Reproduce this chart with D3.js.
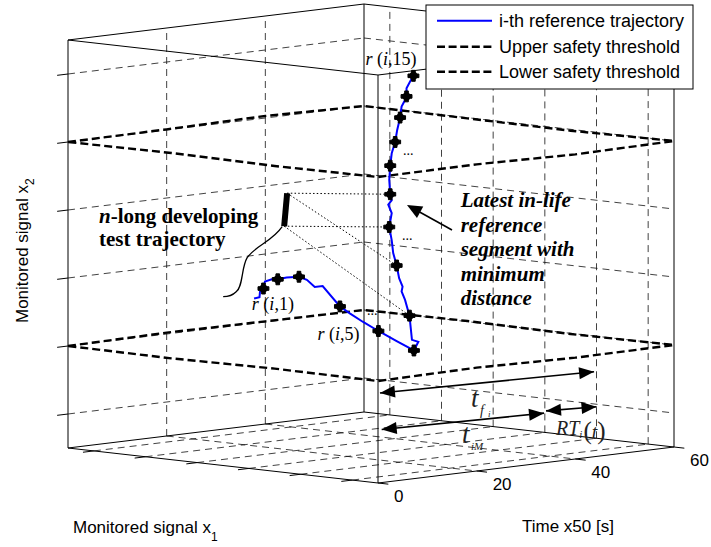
<!DOCTYPE html>
<html>
<head>
<meta charset="utf-8">
<script src="https://cdn.jsdelivr.net/npm/d3@7"></script>
<style>
  body { margin: 0; background: #fff; }
  svg { display: block; }
  .sans { font-family: "Liberation Sans", Arial, sans-serif; }
  .serif { font-family: "Liberation Serif", "Times New Roman", serif; }
</style>
</head>
<body>
<svg id="chart" width="711" height="547"></svg>
<script>
// ---- axis definitions ----
const timeDomain = [0, 60];
const x1Domain = [-0.5, 5.5];
const x2Domain = [-0.5, 5.5];
const timeTicks = [0, 20, 40, 60];
const timeGrid = [20, 40];
const x1Ticks = [0, 1, 2, 3, 4, 5];
const x2Ticks = [0, 1, 2, 3, 4, 5];

// ---- i-th reference trajectory (time, x2), lying in the plane x1 = 2.5 ----
const refX1 = 2.5;
const refTime = [6.3, 7.4, 7.5, 8.2, 8.5, 9.9, 11.1, 12.9, 15.4, 17.0, 18.6, 20.2, 23.7, 25.7, 28.4,
  31.5, 35.2, 38.7, 39.6, 38.3, 37.8, 36.9, 36.2, 36.4, 35.7, 35.2, 34.5, 34.2, 33.7, 34.2,
  33.5, 34.2, 33.9, 33.7, 33.9, 34.2, 34.9, 35.3, 35.9, 36.2, 36.9, 37.2, 37.2, 37.9, 38.6];
const refX2 = [1.90, 1.91, 1.99, 2.03, 2.13, 2.15, 2.14, 2.15, 2.14, 2.08, 1.96, 1.96, 1.63, 1.51, 1.36,
  1.20, 1.02, 0.85, 0.97, 1.01, 1.37, 1.61, 1.74, 1.81, 1.94, 2.13, 2.32, 2.51, 2.71, 2.91,
  3.04, 3.10, 3.19, 3.40, 3.61, 3.79, 3.95, 4.12, 4.30, 4.46, 4.55, 4.60, 4.72, 4.81, 4.89];
// samples r(i,1) ... r(i,15) along the trajectory
const sampleIndex = [3, 6, 8, 12, 15, 17, 20, 25, 28, 32, 34, 36, 38, 41, 44];
const labelledSamples = [1, 5, 15];

// ---- safety thresholds: loops round the domain boundary ----
const loopTime = [0, 20, 40, 60, 60, 60, 60, 60, 40, 20, 0, 0, 0, 0];
const loopX1 = [-0.5, -0.5, -0.5, -0.5, 1.5, 3.5, 5.5, 5.5, 5.5, 5.5, 5.5, 3.5, 1.5, -0.5];
const upperX2 = [4.00, 4.01, 4.03, 4.00, 3.99, 3.98, 4.00, 4.00, 3.98, 4.01, 4.00, 3.99, 4.01, 4.00];
const lowerX2 = [1.00, 1.02, 1.01, 1.00, 1.01, 0.99, 1.00, 1.00, 0.99, 1.02, 1.00, 1.01, 0.99, 1.00];

// ---- n-long developing test trajectory (two samples) ----
const testTime = [13.0, 12.4];
const testX2 = [3.39, 2.91];
// matched reference samples (sample numbers) for each test sample
const matchNear = [10, 9];
const matchFar = [8, 7];

// ---- time spans drawn on the front plane (x1 = 5.5): [t0, x2_0, t1, x2_1] ----
const spanTf = [0.4, 0.82, 43.8, 0.75];
const spanTiM = [0.75, 0.28, 33.65, 0.23];
const spanRT = [34.06, 0.26, 44.3, 0.23];

const legendItems = ["i-th reference trajectory", "Upper safety threshold", "Lower safety threshold"];

// ---- projection of (time, x1, x2) onto the page ----
const origin = [68, 448];
const tX = d3.scaleLinear().domain(timeDomain).range([0, 296]);
const tY = d3.scaleLinear().domain(timeDomain).range([0, -36]);
const aX = d3.scaleLinear().domain(x1Domain).range([0, 310]);
const aY = d3.scaleLinear().domain(x1Domain).range([0, 35]);
const zY = d3.scaleLinear().domain(x2Domain).range([0, -408]);
const proj = (t, a, z) => [origin[0] + tX(t) + aX(a), origin[1] + tY(t) + aY(a) + zY(z)];

const svg = d3.select("#chart");
const line = d3.line();
const [T0, T1] = timeDomain, [A0, A1] = x1Domain, [Z0, Z1] = x2Domain;

// ---- grid on the back walls and floor ----
const grid = [];
timeGrid.forEach(t => grid.push([[t, A0, Z0], [t, A0, Z1]]));
x2Ticks.forEach(z => grid.push([[T0, A0, z], [T1, A0, z]]));
x1Ticks.forEach(a => grid.push([[T1, a, Z0], [T1, a, Z1]]));
x2Ticks.forEach(z => grid.push([[T1, A0, z], [T1, A1, z]]));
timeGrid.forEach(t => grid.push([[t, A0, Z0], [t, A1, Z0]]));
x1Ticks.forEach(a => grid.push([[T0, a, Z0], [T1, a, Z0]]));

svg.append("g").selectAll("path").data(grid).join("path")
  .attr("d", s => line(s.map(p => proj(...p))))
  .attr("fill", "none").attr("stroke", "#111").attr("stroke-width", 0.8)
  .attr("stroke-dasharray", "7,5");

// ---- box edges ----
const corners = {
  L0: [T0, A0, Z0], B0: [T1, A0, Z0], R0: [T1, A1, Z0], F0: [T0, A1, Z0],
  L1: [T0, A0, Z1], B1: [T1, A0, Z1], R1: [T1, A1, Z1], F1: [T0, A1, Z1]
};
const edges = [["L0","B0"],["B0","R0"],["R0","F0"],["F0","L0"],
  ["L1","B1"],["B1","R1"],["R1","F1"],["F1","L1"],
  ["L0","L1"],["B0","B1"],["R0","R1"],["F0","F1"]];
svg.append("g").selectAll("path").data(edges).join("path")
  .attr("d", e => line([proj(...corners[e[0]]), proj(...corners[e[1]])]))
  .attr("stroke", "#000").attr("stroke-width", 1).attr("fill", "none");

// ---- ticks ----
const ticks = [];
timeTicks.forEach(t => ticks.push([[t, A1, Z0], [t, A1 + 0.2, Z0]]));
x1Ticks.forEach(a => ticks.push([[T0, a, Z0], [T0 - 2.2, a, Z0]]));
x2Ticks.forEach(z => ticks.push([[T0, A0, z], [T0 - 2.2, A0, z]]));
svg.append("g").selectAll("path").data(ticks).join("path")
  .attr("d", s => line(s.map(p => proj(...p))))
  .attr("stroke", "#000").attr("stroke-width", 1);

svg.append("g").attr("class", "sans").selectAll("text").data(timeTicks).join("text")
  .attr("x", t => proj(t, A1, Z0)[0] + 16)
  .attr("y", t => proj(t, A1, Z0)[1] + 19)
  .attr("font-size", 17).text(t => t);

// ---- axis titles ----
const xl = svg.append("text").attr("class", "sans").attr("font-size", 17)
  .attr("x", 73).attr("y", 533);
xl.append("tspan").text("Monitored signal x");
xl.append("tspan").attr("font-size", 12).attr("dy", 8).text("1");

svg.append("text").attr("class", "sans").attr("font-size", 17)
  .attr("x", 522).attr("y", 532).text("Time x50 [s]");

const yl = svg.append("text").attr("class", "sans").attr("font-size", 17)
  .attr("transform", "translate(28,323) rotate(-90)");
yl.append("tspan").text("Monitored signal x");
yl.append("tspan").attr("font-size", 12).attr("dy", 6).text("2");

// ---- safety thresholds ----
const loop = vals => line(loopTime.map((t, i) => proj(t, loopX1[i], vals[i])));
[upperX2, lowerX2].forEach(vals => {
  svg.append("path").attr("d", loop(vals))
    .attr("fill", "none").attr("stroke", "#000").attr("stroke-width", 2.4)
    .attr("stroke-dasharray", "8,4");
});

// ---- reference trajectory ----
const refPts = refTime.map((t, i) => proj(t, refX1, refX2[i]));
svg.append("path").attr("d", line(refPts))
  .attr("fill", "none").attr("stroke", "#0000ff").attr("stroke-width", 2);

const samplePt = k => refPts[sampleIndex[k - 1]];

// ---- test trajectory and its matches ----
const testPts = testTime.map((t, i) => proj(t, refX1, testX2[i]));
const dotted = [];
testPts.forEach((p, i) => {
  dotted.push([p, samplePt(matchNear[i])]);
  dotted.push([p, samplePt(matchFar[i])]);
});
svg.append("g").selectAll("path").data(dotted).join("path")
  .attr("d", d => line(d)).attr("stroke", "#000").attr("stroke-width", 1)
  .attr("stroke-dasharray", "1.5,2.2").attr("fill", "none");

svg.append("path").attr("d", line(testPts))
  .attr("stroke", "#000").attr("stroke-width", 6).attr("fill", "none");

// connector from the test segment to its caption
const b = testPts[1];
svg.append("path")
  .attr("d", `M${b[0] - 2},${b[1] + 0.5} c-10,15 -27,19 -35,31 c-6,10 -4,29 -11,34 c-4,4 -9,5 -13,5`)
  .attr("fill", "none").attr("stroke", "#000").attr("stroke-width", 1.3);

// ---- sample markers ----
svg.append("g").selectAll("path").data(sampleIndex).join("path")
  .attr("transform", i => `translate(${refPts[i][0]},${refPts[i][1]})`)
  .attr("d", d3.symbol(d3.symbolCross, 66))
  .attr("fill", "#000").attr("stroke", "#000").attr("stroke-width", 1)
  .attr("stroke-linejoin", "round");
svg.append("g").selectAll("circle").data(sampleIndex).join("circle")
  .attr("cx", i => refPts[i][0]).attr("cy", i => refPts[i][1]).attr("r", 4)
  .attr("fill", "#000");

// sample labels r(i,k)
const labelOffset = { 1: [-11.6, 21.7], 5: [-61, 9.3], 15: [-48, -11] };
labelledSamples.forEach(k => {
  const p = samplePt(k), o = labelOffset[k];
  const tx = svg.append("text").attr("class", "serif").attr("font-size", 18)
    .attr("x", p[0] + o[0]).attr("y", p[1] + o[1]);
  tx.append("tspan").attr("font-style", "italic").text("r");
  tx.append("tspan").text(" (");
  tx.append("tspan").attr("font-style", "italic").text("i");
  tx.append("tspan").text("," + k + ")");
});

// continuation dots along the trajectory
[[403, 155], [402, 240], [367, 315]].forEach(d => {
  svg.append("text").attr("class", "serif").attr("font-size", 14)
    .attr("x", d[0]).attr("y", d[1]).text("...");
});

// ---- arrows ----
function head(tip, from, len, hw) {
  const dx = tip[0] - from[0], dy = tip[1] - from[1];
  const L = Math.hypot(dx, dy), ux = dx / L, uy = dy / L;
  const bx = tip[0] - ux * len, by = tip[1] - uy * len;
  return `M${tip[0]},${tip[1]}L${bx - uy * hw},${by + ux * hw}L${bx + uy * hw},${by - ux * hw}Z`;
}
function doubleArrow(span) {
  const p0 = proj(span[0], A1, span[1]), p1 = proj(span[2], A1, span[3]);
  svg.append("path").attr("d", line([p0, p1])).attr("stroke", "#000").attr("stroke-width", 1.6);
  svg.append("path").attr("d", head(p0, p1, 15, 6)).attr("fill", "#000");
  svg.append("path").attr("d", head(p1, p0, 15, 6)).attr("fill", "#000");
}
[spanTf, spanTiM, spanRT].forEach(doubleArrow);

// pointer to the matched reference segment
const tail = [452, 230], tip = [407, 205];
svg.append("path").attr("d", line([tail, [416, 210]])).attr("stroke", "#000").attr("stroke-width", 1.6);
svg.append("path").attr("d", head(tip, tail, 15, 6.5)).attr("fill", "#000");

// ---- span labels ----
const tf = svg.append("text").attr("class", "serif").attr("fill", "#222").attr("font-style", "italic");
tf.append("tspan").attr("x", 471).attr("y", 406.5).attr("font-size", 27).text("t");
tf.append("tspan").attr("x", 480).attr("y", 414.5).attr("font-size", 14).text("f");
tf.append("tspan").attr("x", 488).attr("y", 417).attr("font-size", 9).text("i");

const tm = svg.append("text").attr("class", "serif").attr("fill", "#222").attr("font-style", "italic");
tm.append("tspan").attr("x", 462).attr("y", 443).attr("font-size", 27).text("t");
tm.append("tspan").attr("x", 471).attr("y", 450).attr("font-size", 11).text("iM");

const rt = svg.append("text").attr("class", "serif").attr("fill", "#222")
  .attr("x", 556).attr("y", 435);
rt.append("tspan").attr("font-style", "italic").attr("font-size", 20).text("RT");
rt.append("tspan").attr("font-style", "italic").attr("font-size", 11).attr("dy", 3).text("i");
rt.append("tspan").attr("font-size", 25).attr("dy", 1).attr("dx", 1).text("(");
rt.append("tspan").attr("font-style", "italic").attr("font-size", 20).text("t");
rt.append("tspan").attr("font-size", 25).text(")");

// ---- captions ----
const cap1 = svg.append("text").attr("class", "serif").attr("font-weight", "bold")
  .attr("font-size", 21).attr("x", 99).attr("y", 222.7);
cap1.append("tspan").attr("font-style", "italic").text("n");
cap1.append("tspan").text("-long developing");
svg.append("text").attr("class", "serif").attr("font-weight", "bold")
  .attr("font-size", 21).attr("x", 99).attr("y", 245.5).text("test trajectory");

const capLines = ["Latest in-life", "reference", "segment with", "minimum", "distance"];
svg.append("g").attr("class", "serif").selectAll("text").data(capLines).join("text")
  .attr("font-weight", "bold").attr("font-style", "italic").attr("font-size", 21)
  .attr("x", 460.7).attr("y", (d, i) => 207 + i * 24.5).text(d => d);

// ---- legend ----
const lg = svg.append("g").attr("class", "sans");
lg.append("rect").attr("x", 426).attr("y", 5).attr("width", 267).attr("height", 84)
  .attr("fill", "#fff").attr("stroke", "#000").attr("stroke-width", 1);
const rowY = [20.7, 46.7, 71.7];
legendItems.forEach((name, i) => {
  lg.append("line").attr("x1", 437).attr("x2", 492).attr("y1", rowY[i]).attr("y2", rowY[i])
    .attr("stroke", i === 0 ? "#0000ff" : "#000").attr("stroke-width", i === 0 ? 2 : 2.4)
    .attr("stroke-dasharray", i === 0 ? null : "8,3.6");
  lg.append("text").attr("x", 499).attr("y", rowY[i] + 6.5).attr("font-size", 18).text(name);
});
</script>
</body>
</html>
